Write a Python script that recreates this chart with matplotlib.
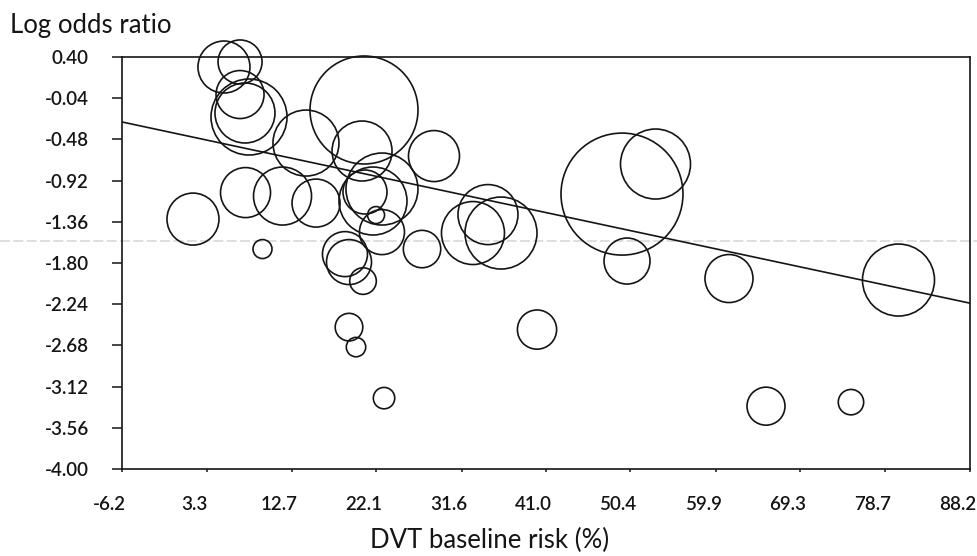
import matplotlib
matplotlib.use("Agg")
import matplotlib.pyplot as plt
import matplotlib.transforms as mtransforms
from matplotlib.lines import Line2D
import numpy as np

# ---- data ----
baseline_risk = [5.15, 6.94, 6.94, 7.49, 7.94, 14.28, 20.74, 28.53, 20.52, 1.70,
                 7.55, 11.67, 15.40, 9.44, 20.85, 21.74, 22.74, 22.08, 22.74, 18.62,
                 19.07, 20.63, 19.07, 19.85, 22.97, 27.20, 34.54, 32.87, 35.99, 49.46,
                 53.19, 50.02, 61.37, 80.24, 65.49, 74.95, 40.00]
log_odds = [0.293, 0.347, -0.001, -0.198, -0.241, -0.519, -0.166, -0.658, -0.604, -1.331,
            -1.048, -1.085, -1.160, -1.651, -1.042, -1.138, -1.010, -1.288, -1.470, -1.705,
            -1.790, -1.993, -2.485, -2.698, -3.243, -1.651, -1.283, -1.480, -1.480, -1.064,
            -0.743, -1.779, -1.966, -1.982, -3.329, -3.286, -2.511]
# study weight, expressed as bubble radius (pixels at 100 dpi)
bubble_radius = [26, 22, 24, 30, 38, 33, 54, 25.5, 30, 26,
                 25, 29, 24, 9.5, 22, 34, 36, 8.5, 22.5, 22.5,
                 22.5, 13.3, 13.8, 9.7, 10.7, 18.7, 30, 31.5, 36, 61,
                 35, 23, 24, 36, 19, 12.7, 19.6]
fit_intercept = -0.421
fit_slope = -0.0205

x_ticks = [-6.2, 3.3, 12.7, 22.1, 31.6, 41.0, 50.4, 59.9, 69.3, 78.7, 88.2]
y_ticks = [0.40, -0.04, -0.48, -0.92, -1.36, -1.80, -2.24, -2.68, -3.12, -3.56, -4.00]

FONT = ["Lato", "DejaVu Sans"]
INK = "#151515"

fig = plt.figure(figsize=(9.78, 5.56), dpi=100)
W, H = 978, 556
ax = fig.add_axes([122 / W, 1 - 469 / H, (970 - 122) / W, (469 - 57) / H])
ax.patch.set_visible(False)

sizes = [(2 * r * 72 / 100) ** 2 for r in bubble_radius]
ax.scatter(baseline_risk, log_odds, s=sizes, facecolors="none", edgecolors=INK,
           linewidths=1.2, clip_on=False, zorder=3)

xl = np.array([x_ticks[0], x_ticks[-1]])
ax.plot(xl, fit_intercept + fit_slope * xl, color=INK, lw=1.2, zorder=2)

ax.set_xlim(x_ticks[0], x_ticks[-1])
ax.set_ylim(y_ticks[-1], y_ticks[0])
ax.set_xticks(x_ticks)
ax.set_xticklabels([f"{v:.1f}" for v in x_ticks], fontfamily=FONT, fontsize=13.5,
                   fontweight="semibold")
ax.set_yticks(y_ticks)
ax.set_yticklabels([f"{v:.2f}" for v in y_ticks], fontfamily=FONT, fontsize=13.5,
                   fontweight="semibold")
ax.tick_params(axis="y", direction="out", length=7, width=1.1, pad=17, colors=INK)
ax.tick_params(axis="x", direction="out", length=2.5, width=1.1, pad=17, colors=INK)
off = mtransforms.ScaledTranslation(-12.5 / 100, 0, fig.dpi_scale_trans)
for lab in ax.get_xticklabels():
    lab.set_transform(lab.get_transform() + off)
for sp in ax.spines.values():
    sp.set_linewidth(1.2)
    sp.set_color(INK)

fig.text(10 / W, 1 - 25 / H, "Log odds ratio", fontfamily=FONT, fontsize=18.5,
         ha="left", va="center", color=INK)
fig.text(490 / W, 1 - 540 / H, "DVT baseline risk (%)", fontfamily=FONT, fontsize=18.5,
         ha="center", va="center", color=INK)

# faint scan line across the page
fig.add_artist(Line2D([0, 1], [1 - 241 / H, 1 - 241 / H], transform=fig.transFigure,
                      color="#d8d8d8", lw=1.2, linestyle=(0, (6, 2)), zorder=-1))

fig.savefig("out.png", dpi=100, facecolor="white")
